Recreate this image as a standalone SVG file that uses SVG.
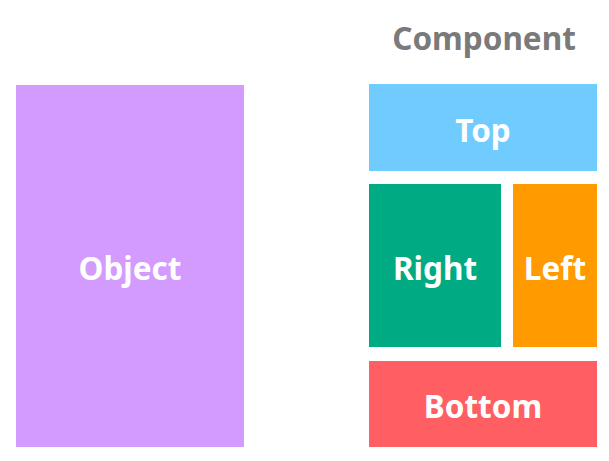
<svg xmlns="http://www.w3.org/2000/svg" width="609" height="461" viewBox="0 0 609 461">
<style>
.lbl{font-family:"Noto Sans","Open Sans",sans-serif;font-weight:700;font-size:31.5px;fill:#fff;text-anchor:middle}
.title{font-family:"Noto Sans","Open Sans",sans-serif;font-weight:700;font-size:31.5px;fill:#7a7a7a;text-anchor:middle}
</style>
<rect width="609" height="461" fill="#fff"/>
<g id="object">
<rect x="16" y="85" width="228" height="362" fill="#D49BFF"/>
<text class="lbl" x="130" y="280">Object</text>
</g>
<g id="component">
<text class="title" x="484" y="50">Component</text>
</g>
<g id="top">
<rect x="369" y="84" width="228" height="87" fill="#70CBFF"/>
<text class="lbl" x="483" y="142">Top</text>
</g>
<g id="right">
<rect x="369" y="184" width="132" height="163" fill="#00AB84"/>
<text class="lbl" x="435" y="280">Right</text>
</g>
<g id="left">
<rect x="513" y="184" width="84" height="163" fill="#FF9A00"/>
<text class="lbl" x="555" y="280">Left</text>
</g>
<g id="bottom">
<rect x="369" y="361" width="228" height="86" fill="#FF5F62"/>
<text class="lbl" x="483" y="418">Bottom</text>
</g>
<g id="connectors"/>
</svg>
